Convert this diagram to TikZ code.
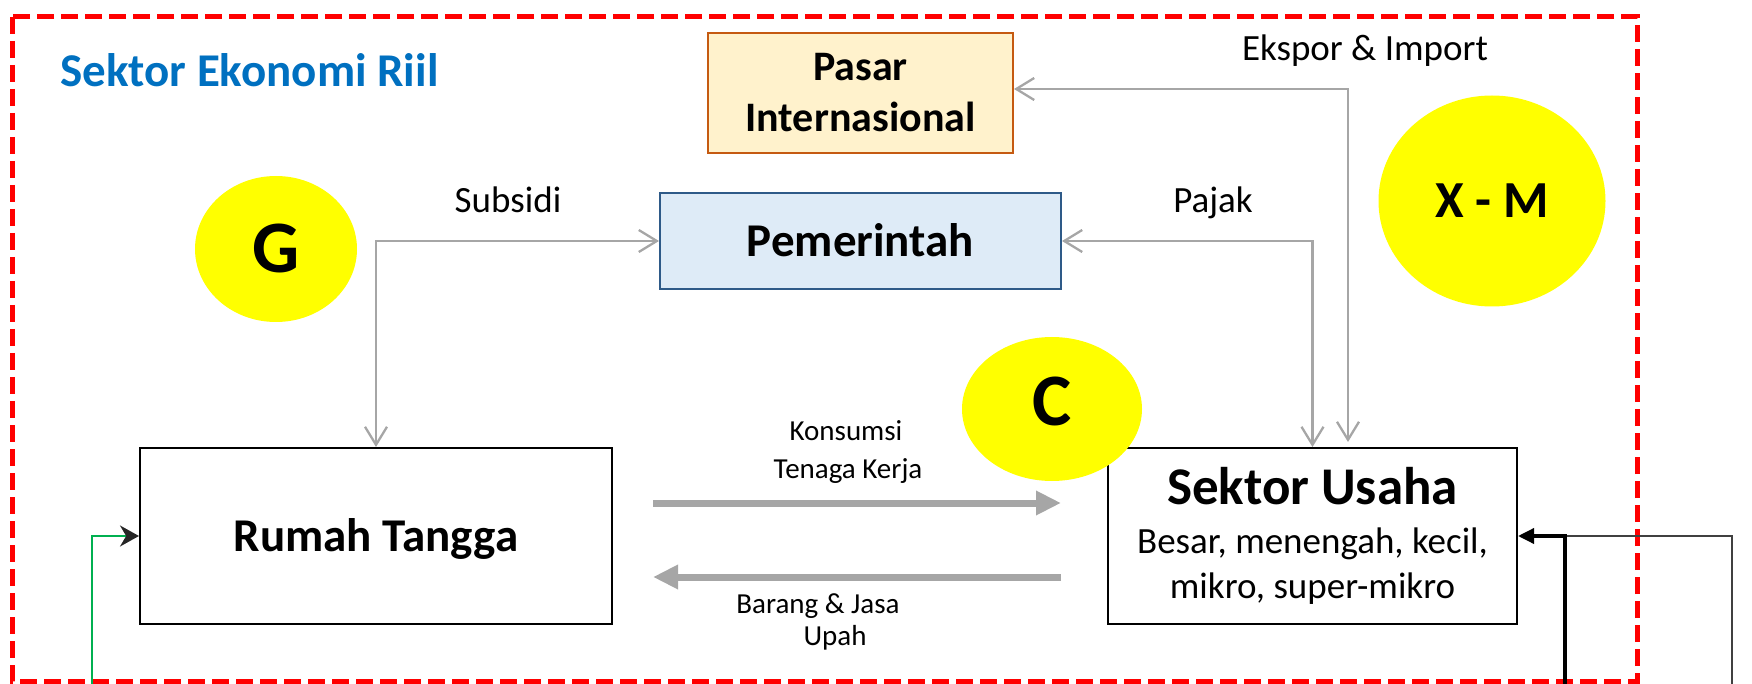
\documentclass[tikz,border=0pt]{standalone}
\usepackage{fontspec}
\setmainfont{Carlito}
\usetikzlibrary{arrows.meta,shapes.geometric}
\definecolor{frameRed}{HTML}{FF0000}
\definecolor{titleBlue}{HTML}{0070C0}
\definecolor{pasarFill}{HTML}{FFF2CC}
\definecolor{pasarLine}{HTML}{C55A11}
\definecolor{pemFill}{HTML}{DEEBF7}
\definecolor{pemLine}{HTML}{2E5A88}
\definecolor{bubbleYellow}{HTML}{FFFF00}
\definecolor{flowGray}{HTML}{A6A6A6}
\definecolor{loopGreen}{HTML}{00B050}
\definecolor{tipDark}{HTML}{262626}
\begin{document}
\begin{tikzpicture}[x=0.5pt,y=-0.5pt,
  box/.style={draw, line width=1pt, inner sep=0pt, align=center, fill=white},
  bubble/.style={ellipse, fill=bubbleYellow, inner sep=0pt, font=\bfseries\fontsize{37pt}{40pt}\selectfont, text height=23.8pt, text depth=0pt},
  lbl/.style={anchor=base, inner sep=0pt, font=\fontsize{18.5pt}{22pt}\selectfont},
  smalllbl/.style={anchor=base, inner sep=0pt, font=\fontsize{14.5pt}{17pt}\selectfont},
  thinflow/.style={draw=flowGray, line width=1.15pt, >={Straight Barb[length=9pt,width=11pt]}, <->},
  thickflow/.style={draw=flowGray, line width=3.5pt, -{Triangle[length=12.5pt,width=11.5pt]}},
]
\useasboundingbox (0,0) rectangle (1752,684);
\draw[draw=frameRed, line width=2.5pt, dash pattern=on 8.5pt off 3.5pt] (12,17) rectangle (1637,681);

\node[anchor=base west, inner sep=0pt, text=titleBlue, font=\bfseries\fontsize{23.5pt}{28pt}\selectfont] (title) at (60,87) {Sektor Ekonomi Riil};

\node[box, draw=pasarLine, fill=pasarFill, minimum width=152.5pt, minimum height=60pt, font=\bfseries\fontsize{21pt}{25.5pt}\selectfont] (pasar) at (860.5,93) {Pasar\\Internasional};
\node[box, draw=pemLine, fill=pemFill, minimum width=200.5pt, minimum height=48pt, font=\bfseries\fontsize{23.5pt}{28pt}\selectfont, text height=15.1pt, text depth=0pt] (pem) at (860.5,241) {Pemerintah};
\node[box, minimum width=236pt, minimum height=88pt, font=\bfseries\fontsize{23.5pt}{28pt}\selectfont, text height=15.1pt, text depth=0pt] (rt) at (376,536) {Rumah Tangga};
\node[box, minimum width=204.5pt, minimum height=88pt, font=\fontsize{18.5pt}{22.5pt}\selectfont] (su) at (1312.5,536) {{\bfseries\fontsize{26.5pt}{30pt}\selectfont Sektor Usaha}\\[2pt]Besar, menengah, kecil,\\mikro, super-mikro};

\node[bubble, minimum width=81pt, minimum height=73pt] (g) at (276,249) {G};
\node[bubble, minimum width=90pt, minimum height=72pt, text depth=7pt] (c) at (1052,409) {C};
\node[bubble, minimum width=113.5pt, minimum height=105.5pt, font=\bfseries\fontsize{26pt}{30pt}\selectfont, text height=16.7pt] (xm) at (1492,201) {X - M};

\draw[thinflow] (pem.west) -| (rt.north);
\draw[thinflow] (pem.east) -| (su.north);
\draw[thinflow] ([yshift=2pt]pasar.east) -| ([xshift=17.75pt,yshift=2.5pt]su.north);

\node[lbl] (subsidi) at (508,213) {Subsidi};
\node[lbl] (pajak) at (1213,213) {Pajak};
\node[lbl] (ekspor) at (1365,61) {Ekspor \& Import};

\coordinate (k1) at (653,503);
\coordinate (k2) at (1061,503);
\coordinate (u1) at (1061,577);
\coordinate (u2) at (653,577);
\draw[thickflow] (k1) -- (k2);
\draw[thickflow] (u1) -- (u2);

\node[smalllbl] (konsumsi) at (846,440) {Konsumsi};
\node[smalllbl] (tenaga) at (848,478) {Tenaga Kerja};
\node[smalllbl] (barang) at (818,613) {Barang \& Jasa};
\node[smalllbl] (upah) at (835,645) {Upah};

\coordinate (gbot) at (92,684);
\draw[draw=loopGreen, line width=1.2pt, -{Stealth[length=9.5pt,width=10.5pt,color=tipDark]}] (gbot) |- (rt.west);

\coordinate (bk1) at (1565,684);
\coordinate (bk2) at (1732,684);
\draw[draw=black!75, line width=1pt] (bk2) |- (bk1 |- su.east);
\draw[line width=1.75pt, -{Triangle[length=8pt,width=7.5pt]}] (bk1) |- (su.east);
\end{tikzpicture}
\end{document}
